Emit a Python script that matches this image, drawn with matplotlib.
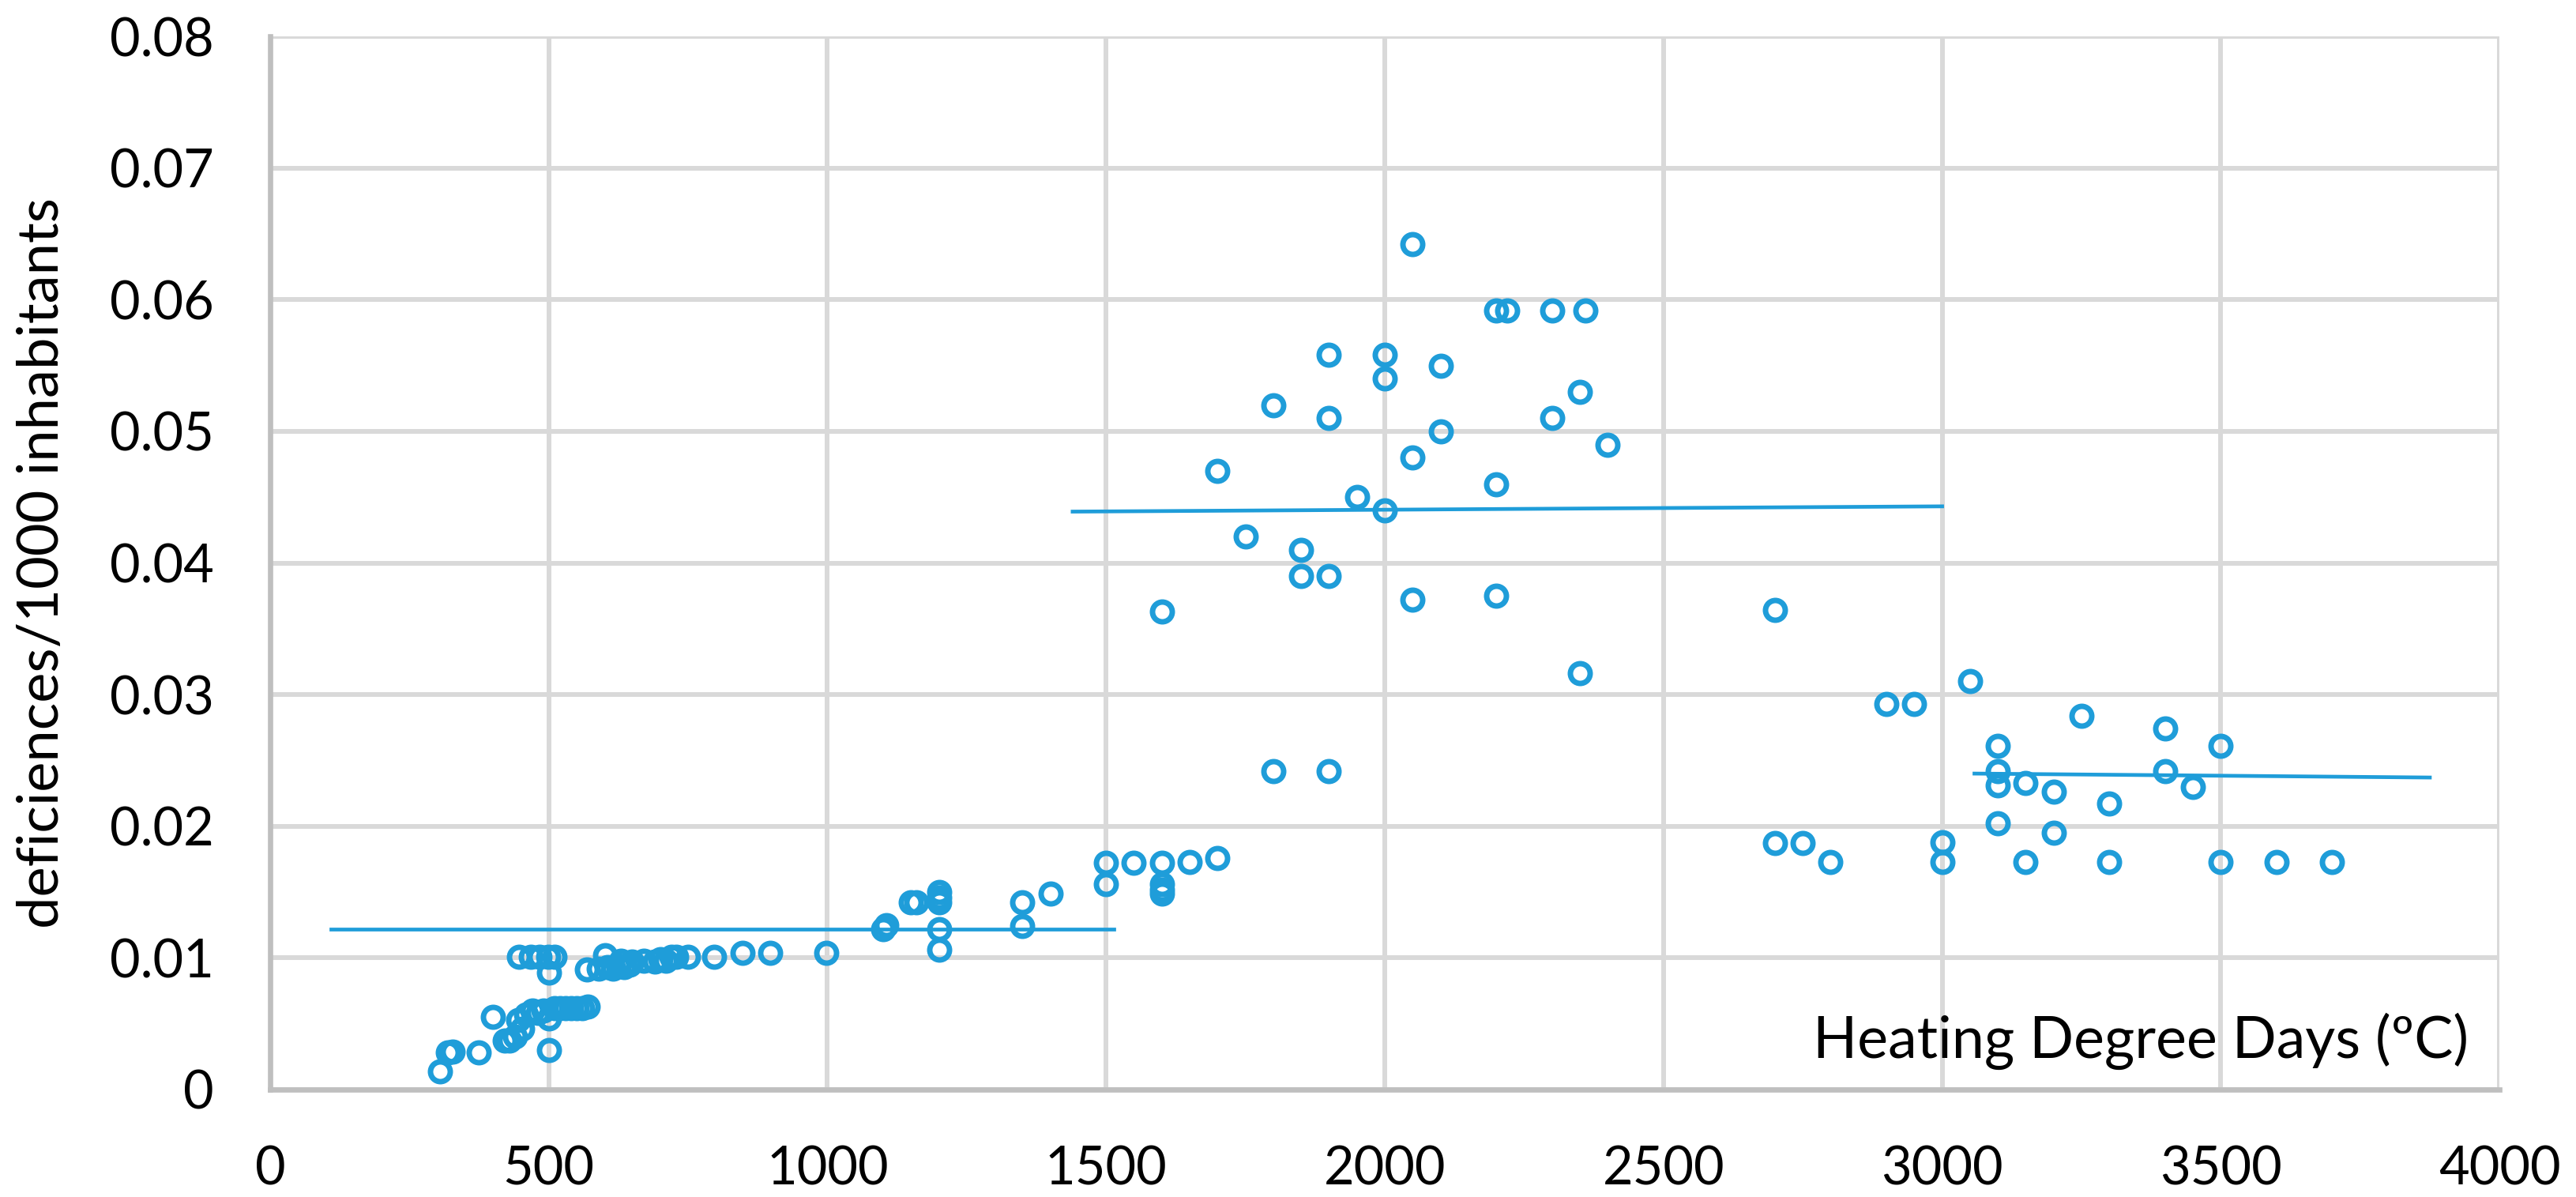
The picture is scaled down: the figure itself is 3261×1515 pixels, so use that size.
import matplotlib
matplotlib.use("Agg")
import matplotlib.pyplot as plt

plt.rcParams["font.family"] = ["Lato", "DejaVu Sans"]

# --- data ---
hdd = [
    305, 319, 327, 375, 400, 421, 430, 440, 445, 452, 459, 471, 480, 490, 500, 500,
    510, 520, 530, 540, 550, 560, 570,
    447, 468, 483, 499, 510, 601, 630, 650, 670, 690, 700, 710, 720, 728, 750, 797,
    500, 568, 590, 605, 615, 625, 635, 645,
    848, 897, 998,
    1100, 1105, 1150, 1160, 1200, 1200, 1200, 1200, 1200, 1350, 1350, 1400,
    1500, 1500, 1550, 1600, 1600, 1600, 1600, 1650, 1700,
    1600, 1700, 1750, 1800, 1800, 1850, 1850, 1900, 1900, 1900, 1900, 1950,
    2000, 2000, 2000, 2050, 2050, 2050, 2100, 2100, 2200, 2220, 2200, 2200,
    2300, 2300, 2350, 2350, 2360, 2400,
    2700, 2700, 2750, 2800, 2900, 2950, 3000, 3000, 3050, 3100, 3100, 3100, 3100,
    3150, 3150, 3200, 3200, 3250, 3300, 3300, 3400, 3400, 3450, 3500, 3500, 3600, 3700,
]
rate = [
    0.0014, 0.0028, 0.0029, 0.0028, 0.0055, 0.0037, 0.0037, 0.0040, 0.0053, 0.0046,
    0.0057, 0.0060, 0.0058, 0.0060, 0.0054, 0.0030,
    0.0062, 0.0062, 0.0062, 0.0062, 0.0062, 0.0062, 0.0063,
    0.0101, 0.0101, 0.0101, 0.0101, 0.0101, 0.0102, 0.0098, 0.0097, 0.0098, 0.0097,
    0.0099, 0.0098, 0.0101, 0.0101, 0.0101, 0.0101,
    0.0089, 0.0091, 0.0092, 0.0093, 0.0092, 0.0094, 0.0093, 0.0095,
    0.0104, 0.0104, 0.0104,
    0.0122, 0.0125, 0.0142, 0.0142, 0.0150, 0.0146, 0.0142, 0.0122, 0.0106, 0.0142, 0.0124, 0.0149,
    0.0172, 0.0156, 0.0172, 0.0172, 0.0156, 0.0152, 0.0149, 0.0173, 0.0176,
    0.0363, 0.0470, 0.0420, 0.0520, 0.0242, 0.0410, 0.0390, 0.0390, 0.0558, 0.0510, 0.0242, 0.0450,
    0.0558, 0.0540, 0.0440, 0.0642, 0.0480, 0.0372, 0.0550, 0.0500, 0.0592, 0.0592, 0.0460, 0.0375,
    0.0592, 0.0510, 0.0530, 0.0316, 0.0592, 0.0490,
    0.0364, 0.0187, 0.0187, 0.0173, 0.0293, 0.0293, 0.0188, 0.0173, 0.0310, 0.0261, 0.0242, 0.0231, 0.0202,
    0.0233, 0.0173, 0.0226, 0.0195, 0.0284, 0.0217, 0.0173, 0.0274, 0.0242, 0.0230, 0.0261, 0.0173, 0.0173, 0.0173,
]

# trend line segments (start, end)
trend_x = [[110, 1514], [1440, 3000], [3058, 3875]]
trend_y = [[0.0122, 0.0122], [0.0439, 0.0443], [0.0240, 0.0237]]

x_ticks = [0, 500, 1000, 1500, 2000, 2500, 3000, 3500, 4000]
y_ticks = [0, 0.01, 0.02, 0.03, 0.04, 0.05, 0.06, 0.07, 0.08]
y_tick_labels = ["0", "0.01", "0.02", "0.03", "0.04", "0.05", "0.06", "0.07", "0.08"]

blue = "#1f9dd9"

fig = plt.figure(figsize=(32.62, 15.15), dpi=100)
ax = fig.add_axes([0.1048, 0.0898, 0.8652, 0.8798])

for tx, ty in zip(trend_x, trend_y):
    ax.plot(tx, ty, color=blue, linewidth=3.4, zorder=2)

ax.plot(hdd, rate, "o", markerfacecolor="none", markeredgecolor=blue,
        markersize=18, markeredgewidth=5, zorder=3)

ax.set_xlim(0, 4000)
ax.set_ylim(0, 0.08)
ax.set_xticks(x_ticks)
ax.set_yticks(y_ticks)
ax.set_yticklabels(y_tick_labels)
ax.tick_params(length=0, labelsize=48, pad=51)

ax.grid(True, color="#d9d9d9", linewidth=4.3)
ax.set_axisbelow(True)
for side in ["top", "right"]:
    ax.spines[side].set_visible(False)
for side in ["left", "bottom"]:
    ax.spines[side].set_color("#bfbfbf")
    ax.spines[side].set_linewidth(4.8)

ax.set_ylabel("deficiences/1000 inhabitants", fontsize=52, labelpad=38)
ax.text(0.986, 0.030, "Heating Degree Days (ºC)", transform=ax.transAxes,
        ha="right", va="baseline", fontsize=53)

fig.savefig("out.png", dpi=100)
